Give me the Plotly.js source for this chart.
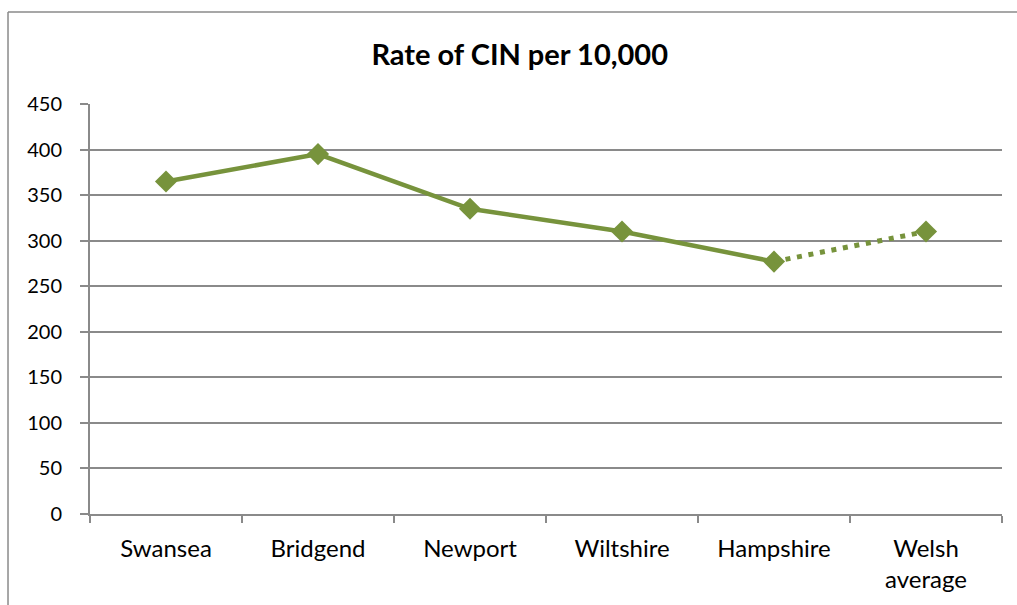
<!DOCTYPE html>
<html>
<head>
<meta charset="utf-8">
<script src="https://cdn.plot.ly/plotly-3.0.1.min.js"></script>
<style>html,body{margin:0;padding:0;background:#fff}#chart{width:1017px;height:605px}</style>
</head>
<body>
<div id="chart"></div>
<script>
// Rate of children in need (CIN) per 10,000, by authority
var categories = ["Swansea", "Bridgend", "Newport", "Wiltshire", "Hampshire", "Welsh average"];
var tickLabels = ["Swansea", "Bridgend", "Newport", "Wiltshire", "Hampshire", "Welsh<br>average"];
var rates = [365, 395, 335, 310, 277, 310];
var yTicks = [0, 50, 100, 150, 200, 250, 300, 350, 400, 450];

var green = "#77933C";
var grey = "#8a8a8a";
var nAuth = 5; // the last category is the comparison average

var authorities = {
  x: categories.slice(0, nAuth),
  y: rates.slice(0, nAuth),
  type: "scatter",
  mode: "lines+markers",
  line: {color: green, width: 4.5},
  marker: {symbol: "diamond", size: 17, color: green},
  hoverinfo: "x+y"
};
// dotted link from the last authority to the average
var averageLink = {
  x: categories.slice(nAuth - 1),
  y: rates.slice(nAuth - 1),
  type: "scatter",
  mode: "lines",
  line: {color: green, width: 5, dash: "5px,6.7px"},
  hoverinfo: "skip"
};
var averagePoint = {
  x: categories.slice(nAuth),
  y: rates.slice(nAuth),
  type: "scatter",
  mode: "markers",
  marker: {symbol: "diamond", size: 17, color: green},
  hoverinfo: "x+y"
};

var layout = {
  width: 1017, height: 605,
  margin: {l: 90, r: 15, t: 104, b: 91},
  paper_bgcolor: "#fff", plot_bgcolor: "#fff",
  showlegend: false,
  font: {family: "Lato, 'Open Sans', sans-serif", color: "#000", size: 20},
  title: {
    text: "<b>Rate of CIN per 10,000</b>",
    font: {family: "Lato, 'Open Sans', sans-serif", size: 29, color: "#000"},
    x: 0.511, xanchor: "center", y: 0.909, yanchor: "middle"
  },
  xaxis: {
    type: "category",
    tickvals: categories, ticktext: tickLabels,
    range: [-0.5, categories.length - 0.5],
    showgrid: false, zeroline: false,
    showline: true, linecolor: grey, linewidth: 2,
    ticks: "outside", tickson: "boundaries", ticklen: 7, tickcolor: grey, tickwidth: 2,
    ticklabelstandoff: 12,
    tickfont: {size: 24}
  },
  yaxis: {
    range: [0, 450], tickvals: yTicks,
    showgrid: true, gridcolor: grey, gridwidth: 2,
    zeroline: false,
    showline: true, linecolor: grey, linewidth: 2,
    ticks: "outside", ticklen: 8, tickcolor: grey, tickwidth: 2,
    ticklabelstandoff: 14,
    tickfont: {size: 20}
  },
  shapes: [
    // outer chart frame
    {type: "line", xref: "paper", yref: "paper", x0: -0.0899, x1: -0.0899, y0: -0.3, y1: 1.2244,
     line: {color: grey, width: 1.5}},
    {type: "line", xref: "paper", yref: "paper", x0: -0.0899, x1: 1.05, y0: 1.2244, y1: 1.2244,
     line: {color: grey, width: 1.5}}
  ]
};

Plotly.newPlot("chart", [authorities, averageLink, averagePoint], layout, {displayModeBar: false, staticPlot: true});
</script>
</body>
</html>
